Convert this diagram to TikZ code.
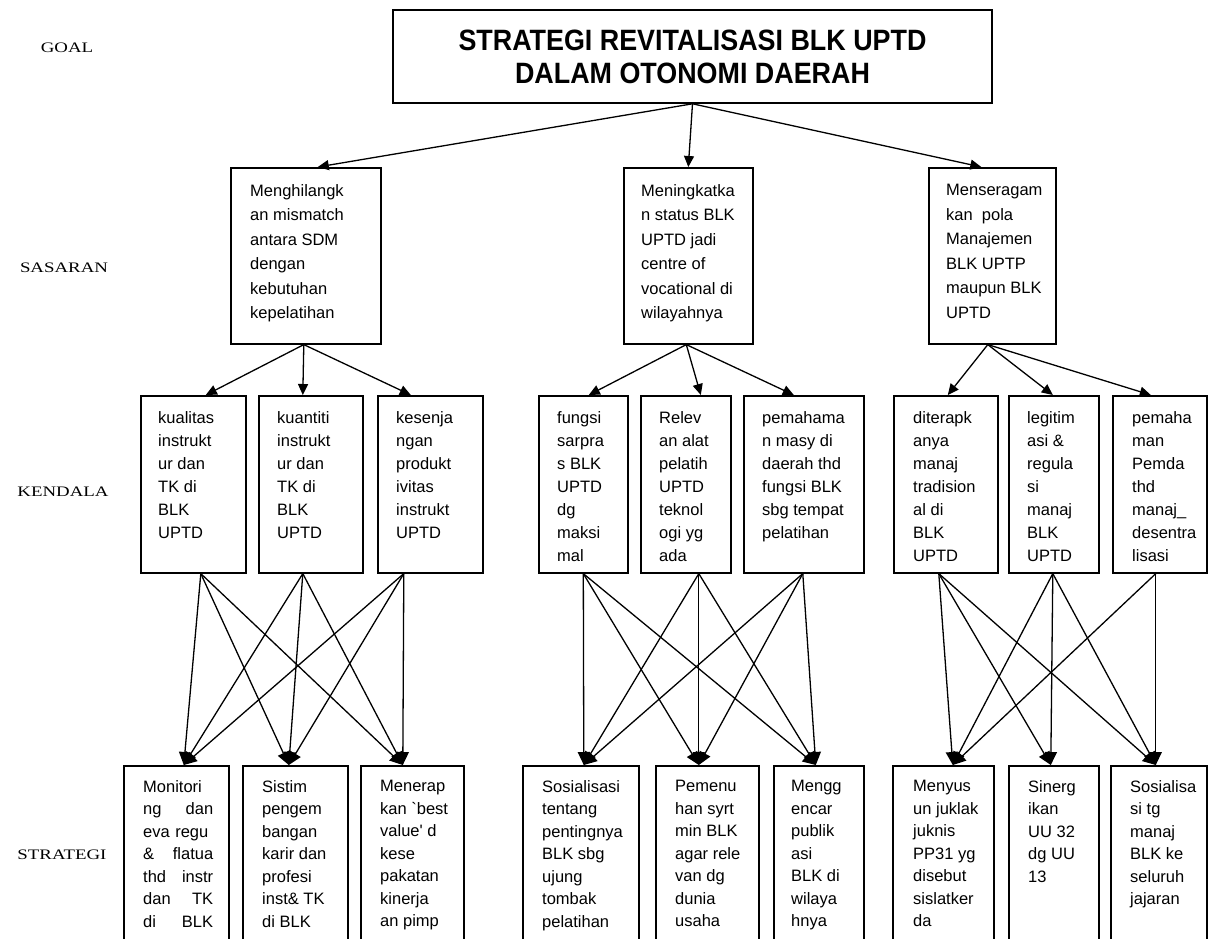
\documentclass[tikz,border=0pt]{standalone}
\usepackage{fontspec}
\setmainfont{Liberation Serif}
\newfontfamily\arialf{Liberation Sans}
\usepackage{graphicx}
\usetikzlibrary{arrows.meta}
\begin{document}
\begin{tikzpicture}[x=1pt,y=-1pt,
  bx/.style={draw=black, line width=1.6pt, inner sep=0pt, anchor=north west},
  tx/.style={anchor=north west, inner sep=0pt, align=left, font=\arialf\fontsize{16.5}{23}\selectfont},
  sx/.style={tx, font=\arialf\fontsize{16.5}{24.5}\selectfont},
  stx/.style={tx, font=\arialf\fontsize{16.5}{22.5}\selectfont},
  lab/.style={font=\fontsize{14.5}{16}\selectfont},
  arr/.style={line width=1.3pt, -{Triangle[length=11pt,width=10pt]}},
  carr/.style={line width=1.3pt, -{Triangle[length=13pt,width=12pt]}},
]
\useasboundingbox (0,0) rectangle (1208,939);
\clip (0,0) rectangle (1208,939);

% level labels
\node[lab] (lgoal) at (67,48) {\scalebox{1.3}[1]{GOAL}};
\node[lab] (lsas) at (64,268) {\scalebox{1.3}[1]{SASARAN}};
\node[lab] (lken) at (63,492) {\scalebox{1.3}[1]{KENDALA}};
\node[lab] (lstr) at (62,855) {\scalebox{1.3}[1]{STRATEGI}};

% goal
\node[draw=black, line width=1.6pt, minimum width=599, minimum height=93, align=center,
  font=\arialf\bfseries\fontsize{28}{33}\selectfont] (goal) at (692.5,56.5)
  {\scalebox{0.96}[1.05]{STRATEGI REVITALISASI BLK UPTD}\\\scalebox{0.96}[1.05]{DALAM OTONOMI DAERAH}};

% sasaran
\node[bx, minimum width=150, minimum height=176] (s1) at (230,167) {};
\node[bx, minimum width=129, minimum height=176] (s2) at (623,167) {};
\node[bx, minimum width=127, minimum height=176] (s3) at (928,167) {};
\node[sx] (s1t) at ([shift={(20,17)}]s1.north west) {Menghilangk\\an mismatch\\antara SDM\\dengan\\kebutuhan\\kepelatihan};
\node[sx] (s2t) at ([shift={(18,17)}]s2.north west) {Meningkatka\\n status BLK\\UPTD jadi\\centre of\\vocational di\\wilayahnya};
\node[sx] (s3t) at ([shift={(18,17)}]s3.north west) {Menseragam\\kan\ \ pola\\Manajemen\\BLK UPTP\\maupun BLK\\UPTD};

% kendala
\node[bx, minimum width=105, minimum height=177] (k1) at (140,395) {};
\node[bx, minimum width=104, minimum height=177] (k2) at (258,395) {};
\node[bx, minimum width=105, minimum height=177] (k3) at (377,395) {};
\node[bx, minimum width=89, minimum height=177] (k4) at (538,395) {};
\node[bx, minimum width=90, minimum height=177] (k5) at (640,395) {};
\node[bx, minimum width=120, minimum height=177] (k6) at (743,395) {};
\node[bx, minimum width=104, minimum height=177] (k7) at (893,395) {};
\node[bx, minimum width=90, minimum height=177] (k8) at (1008,395) {};
\node[bx, minimum width=94, minimum height=177] (k9) at (1112,395) {};
\node[tx] (k1t) at ([shift={(18,16)}]k1.north west) {kualitas\\instrukt\\ur dan\\TK di\\BLK\\UPTD};
\node[tx] (k2t) at ([shift={(19,16)}]k2.north west) {kuantiti\\instrukt\\ur dan\\TK di\\BLK\\UPTD};
\node[tx] (k3t) at ([shift={(19,16)}]k3.north west) {kesenja\\ngan\\produkt\\ivitas\\instrukt\\UPTD};
\node[tx] (k4t) at ([shift={(19,16)}]k4.north west) {fungsi\\sarpra\\s BLK\\UPTD\\dg\\maksi\\mal};
\node[tx] (k5t) at ([shift={(19,16)}]k5.north west) {Relev\\an alat\\pelatih\\UPTD\\teknol\\ogi yg\\ada};
\node[tx] (k6t) at ([shift={(19,16)}]k6.north west) {pemahama\\n masy di\\daerah thd\\fungsi BLK\\sbg tempat\\pelatihan};
\node[tx] (k7t) at ([shift={(20,16)}]k7.north west) {diterapk\\anya\\manaj\\tradision\\al di\\BLK\\UPTD};
\node[tx] (k8t) at ([shift={(19,16)}]k8.north west) {legitim\\asi \&\\regula\\si\\manaj\\BLK\\UPTD};
\node[tx] (k9t) at ([shift={(20,16)}]k9.north west) {pemaha\\man\\Pemda\\thd\\manaj\_\\desentra\\lisasi};

% strategi
\node[bx, minimum width=105, minimum height=180] (t1) at (123,765) {};
\node[bx, minimum width=105, minimum height=180] (t2) at (242,765) {};
\node[bx, minimum width=103, minimum height=180] (t3) at (360,765) {};
\node[bx, minimum width=116, minimum height=180] (t4) at (522,765) {};
\node[bx, minimum width=103, minimum height=180] (t5) at (655,765) {};
\node[bx, minimum width=90, minimum height=180] (t6) at (773,765) {};
\node[bx, minimum width=101, minimum height=180] (t7) at (892,765) {};
\node[bx, minimum width=90, minimum height=180] (t8) at (1008,765) {};
\node[bx, minimum width=96, minimum height=180] (t9) at (1110,765) {};
\node[stx, text width=70] (t1t) at ([shift={(20,15)}]t1.north west) {\mbox{Monitori}\\\mbox{ng}\hfill\mbox{dan}\\\mbox{eva regu}\\\&\hfill\mbox{flatua}\\\mbox{thd}\hfill\mbox{instr}\\\mbox{dan}\hfill\mbox{TK}\\\mbox{di}\hfill\mbox{BLK}};
\node[stx] (t2t) at ([shift={(20,15)}]t2.north west) {Sistim\\pengem\\bangan\\karir dan\\profesi\\inst\& TK\\di BLK};
\node[stx] (t3t) at ([shift={(20,15)}]t3.north west) {Menerap\\kan `best\\value' d\\kese\\pakatan\\kinerja\\an pimp};
\node[stx] (t4t) at ([shift={(20,15)}]t4.north west) {Sosialisasi\\tentang\\pentingnya\\BLK sbg\\ujung\\tombak\\pelatihan};
\node[stx] (t5t) at ([shift={(20,15)}]t5.north west) {Pemenu\\han syrt\\min BLK\\agar rele\\van dg\\dunia\\usaha};
\node[stx] (t6t) at ([shift={(18,15)}]t6.north west) {Mengg\\encar\\publik\\asi\\BLK di\\wilaya\\hnya};
\node[stx] (t7t) at ([shift={(21,15)}]t7.north west) {Menyus\\un juklak\\juknis\\PP31 yg\\disebut\\sislatker\\da};
\node[stx] (t8t) at ([shift={(20,15)}]t8.north west) {Sinerg\\ikan\\UU 32\\dg UU\\13};
\node[stx] (t9t) at ([shift={(20,15)}]t9.north west) {Sosialisa\\si tg\\manaj\\BLK ke\\seluruh\\jajaran};

% goal -> sasaran
\draw[arr] (goal.south) -- ([xshift=12]s1.north);
\draw[arr] (goal.south) -- (s2.north);
\draw[arr] (goal.south) -- ([xshift=-11]s3.north);

% sasaran -> kendala
\coordinate (s1o) at ([xshift=-2]s1.south);
\coordinate (s2o) at ([xshift=-2]s2.south);
\coordinate (s3o) at ([xshift=-4.5]s3.south);
\draw[arr] (s1o) -- ([xshift=12.5]k1.north);
\draw[arr] (s1o) -- ([xshift=-8]k2.north);
\draw[arr] (s1o) -- ([xshift=-19.5]k3.north);
\draw[arr] (s2o) -- ([xshift=5.5]k4.north);
\draw[arr] (s2o) -- ([xshift=15]k5.north);
\draw[arr] (s2o) -- ([xshift=-10]k6.north);
\draw[arr] (s3o) -- ([xshift=2]k7.north);
\draw[arr] (s3o) -- ([xshift=-1]k8.north);
\draw[arr] (s3o) -- ([xshift=-9]k9.north);

% kendala -> strategi
\coordinate (k1o) at ([xshift=7.5]k1.south);
\coordinate (k2o) at ([xshift=-8]k2.south);
\coordinate (k3o) at ([xshift=-26.5]k3.south);
\coordinate (k4o) at ([xshift=0]k4.south);
\coordinate (k5o) at ([xshift=13]k5.south);
\coordinate (k6o) at ([xshift=-1]k6.south);
\coordinate (k7o) at ([xshift=-7]k7.south);
\coordinate (k8o) at ([xshift=-1]k8.south);
\coordinate (k9o) at ([xshift=-4]k9.south);
\coordinate (t1i) at ([xshift=7.5]t1.north);
\coordinate (t2i) at ([xshift=-6.5]t2.north);
\coordinate (t3i) at ([xshift=-9.5]t3.north);
\coordinate (t4i) at ([xshift=3]t4.north);
\coordinate (t5i) at ([xshift=-8.5]t5.north);
\coordinate (t6i) at ([xshift=-3]t6.north);
\coordinate (t7i) at ([xshift=9.5]t7.north);
\coordinate (t8i) at ([xshift=-3]t8.north);
\coordinate (t9i) at ([xshift=-3]t9.north);
\foreach \a in {1,2,3} \foreach \b in {1,2,3} \draw[carr] (k\a o) -- (t\b i);
\foreach \a in {4,5,6} \foreach \b in {4,5,6} \draw[carr] (k\a o) -- (t\b i);
\foreach \a in {7,8} \foreach \b in {7,8,9} \draw[carr] (k\a o) -- (t\b i);
\draw[carr] (k9o) -- (t7i);
\draw[carr] (k9o) -- (t9i);
\end{tikzpicture}
\end{document}
